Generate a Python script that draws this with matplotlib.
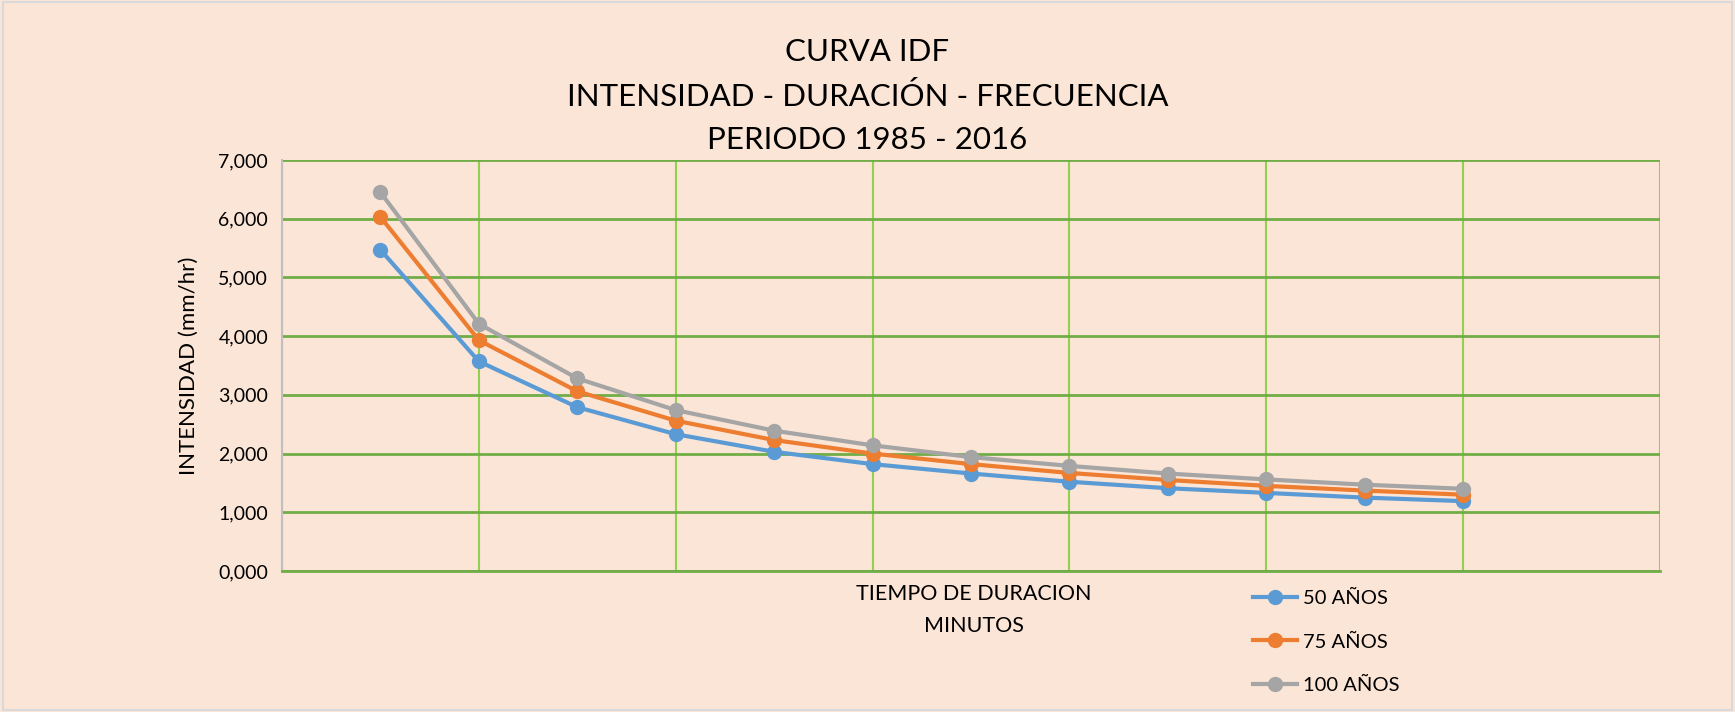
import matplotlib
matplotlib.use('Agg')
import matplotlib.pyplot as plt
from matplotlib.ticker import FuncFormatter, MultipleLocator

# duration steps (x position of each point) and intensities per return period
durations = [1, 2, 3, 4, 5, 6, 7, 8, 9, 10, 11, 12]
i_50 = [5.47, 3.57, 2.79, 2.33, 2.03, 1.82, 1.66, 1.52, 1.41, 1.33, 1.25, 1.19]
i_75 = [6.03, 3.93, 3.06, 2.56, 2.23, 2.00, 1.82, 1.67, 1.55, 1.45, 1.37, 1.30]
i_100 = [6.45, 4.21, 3.28, 2.74, 2.39, 2.14, 1.94, 1.79, 1.66, 1.56, 1.47, 1.40]
series_names = ['50 AÑOS', '75 AÑOS', '100 AÑOS']
colors = ['#5B9BD5', '#ED7D31', '#A5A5A5']

bg = '#FBE5D6'
plt.rcParams['font.family'] = ['Lato', 'DejaVu Sans']

fig = plt.figure(figsize=(17.35, 7.12), dpi=100, facecolor=bg)
fig.patches.append(plt.Rectangle((0.002, 0.003), 0.996, 0.994, transform=fig.transFigure,
                                 fill=False, edgecolor='#D9D9D9', linewidth=1.5))
ax = fig.add_axes([282 / 1735, 1 - 571 / 712, (1660 - 282) / 1735, (571 - 160) / 712])
ax.set_facecolor(bg)

lines = []
for vals, name, c in zip([i_50, i_75, i_100], series_names, colors):
    ln, = ax.plot(durations, vals, color=c, lw=3, marker='o', ms=10, label=name, zorder=3)
    lines.append(ln)

ax.set_xlim(0, 14)
ax.set_ylim(0, 7)
ax.xaxis.set_major_locator(MultipleLocator(2))
ax.yaxis.set_major_locator(MultipleLocator(1))
ax.yaxis.set_major_formatter(FuncFormatter(lambda v, p: '{:.3f}'.format(v).replace('.', ',')))
ax.set_xticklabels([])
ax.tick_params(axis='x', length=0)
ax.tick_params(axis='y', length=0, labelsize=14, pad=10)

ax.grid(axis='y', color='#70AD47', lw=2)
ax.grid(axis='x', color='#92D050', lw=1.5)
ax.set_axisbelow(True)
for s in ['top', 'right']:
    ax.spines[s].set_visible(False)
ax.spines['bottom'].set_color('#70AD47')
ax.spines['bottom'].set_linewidth(2)
ax.spines['left'].set_color('#BFBFBF')
ax.spines['left'].set_linewidth(1.5)

ax.set_ylabel('INTENSIDAD (mm/hr)', fontsize=16, labelpad=14)
fig.text(974 / 1735, 1 - 610 / 712, 'TIEMPO DE DURACION\nMINUTOS', fontsize=15.5,
         ha='center', va='center', linespacing=1.75)

fig.text(0.5, 1 - 96 / 712, 'CURVA IDF\nINTENSIDAD - DURACIÓN - FRECUENCIA\nPERIODO 1985 - 2016',
         fontsize=22.5, ha='center', va='center', linespacing=1.68)

fig.legend(handles=lines, loc='upper left', bbox_to_anchor=(1235 / 1735, 1 - 572 / 712),
           frameon=False, fontsize=14.5, handlelength=2.2, labelspacing=1.3, handletextpad=0.3)

fig.savefig('out.png', dpi=100, facecolor=bg)
